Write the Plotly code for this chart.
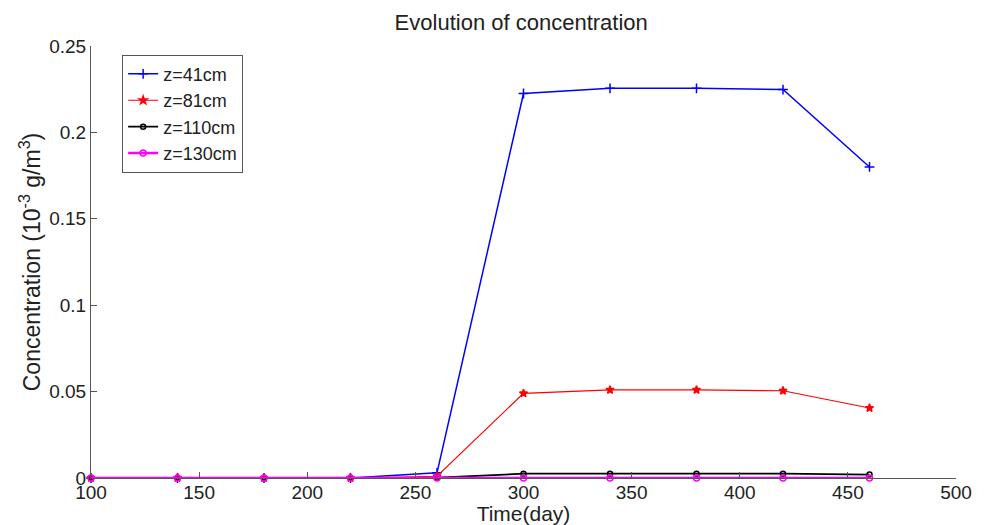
import plotly.graph_objects as go

days = [100, 140, 180, 220, 260, 300, 340, 380, 420, 460]
z41 = [0, 0, 0, 0, 0.003, 0.2225, 0.2255, 0.2255, 0.2248, 0.180]
z81 = [0, 0, 0, 0, 0.001, 0.049, 0.051, 0.051, 0.0505, 0.0405]
z110 = [0, 0, 0, 0, 0.0002, 0.0025, 0.0025, 0.0025, 0.0025, 0.002]
z130 = [0, 0, 0, 0, 0, 0, 0, 0, 0, 0]

series = [
    ("z=41cm", z41, "#0000ff", "cross-thin-open", 7, 1.5),
    ("z=81cm", z81, "#ff0000", "star", 6, 1.2),
    ("z=110cm", z110, "#000000", "circle-open", 5, 1.8),
    ("z=130cm", z130, "#ff00ff", "circle-open", 6, 2.4),
]

fig = go.Figure()
for name, vals, col, sym, sz, lw in series:
    fig.add_trace(go.Scatter(
        x=days, y=vals, name=name, mode="lines+markers",
        line=dict(color=col, width=lw),
        marker=dict(symbol=sym, size=sz, color=col, line=dict(color=col, width=1.5)),
        cliponaxis=False,
    ))

fig.update_layout(
    width=989, height=525,
    margin=dict(l=91, r=33, t=46, b=47),
    paper_bgcolor="white", plot_bgcolor="white",
    font=dict(family="Liberation Sans, Arial, sans-serif", size=19, color="#222"),
    title=dict(text="Evolution of concentration", x=0.527, xanchor="center",
               y=0.958, yanchor="middle", font=dict(size=22)),
    showlegend=True,
    legend=dict(x=0.036, y=0.98, xanchor="left", yanchor="top",
                bordercolor="#555", borderwidth=1, bgcolor="white",
                font=dict(size=18), tracegroupgap=0, itemwidth=30),
)
fig.update_xaxes(
    range=[100, 500], tickvals=[100, 150, 200, 250, 300, 350, 400, 450, 500],
    ticks="inside", ticklen=6, tickcolor="#555", showline=True, linecolor="#555",
    linewidth=1, showgrid=False, zeroline=False, automargin=False,
    title=dict(text="Time(day)", font=dict(size=21), standoff=0),
    tickfont=dict(size=19), ticklabelstandoff=-3,
)
fig.update_yaxes(
    range=[0, 0.25], tickvals=[0, 0.05, 0.1, 0.15, 0.2, 0.25],
    ticktext=["0", "0.05", "0.1", "0.15", "0.2", "0.25"],
    ticks="inside", ticklen=6, tickcolor="#555", showline=True, linecolor="#555",
    linewidth=1, showgrid=False, zeroline=False, automargin=False,
    title=dict(text="Concentration (10<sup>-3</sup> g/m<sup>3</sup>)", font=dict(size=23), standoff=2),
    tickfont=dict(size=19),
)
fig.write_html("out.html")
